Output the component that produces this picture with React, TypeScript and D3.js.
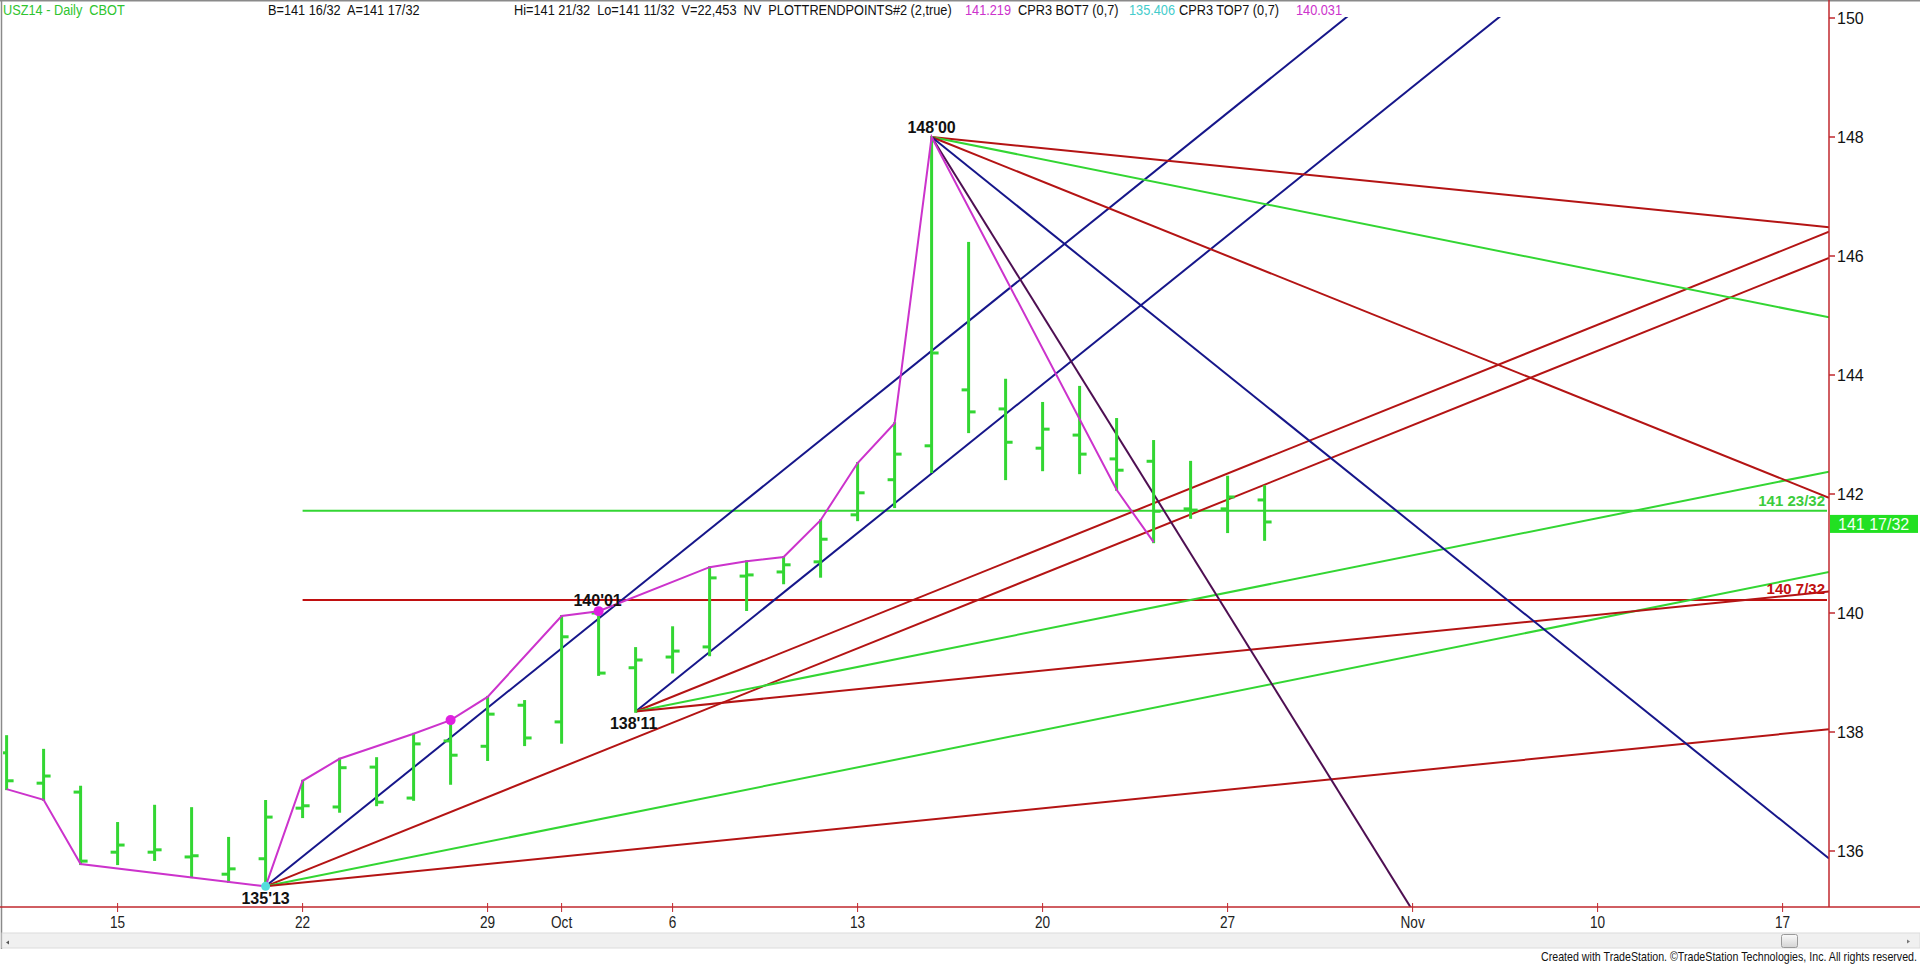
import React from 'react';
import * as d3 from 'd3';

// ---- data ----
const barDates = [
  '2014-09-10','2014-09-11','2014-09-12','2014-09-15','2014-09-16','2014-09-17','2014-09-18','2014-09-19',
  '2014-09-22','2014-09-23','2014-09-24','2014-09-25','2014-09-26','2014-09-29','2014-09-30','2014-10-01',
  '2014-10-02','2014-10-03','2014-10-06','2014-10-07','2014-10-08','2014-10-09','2014-10-10','2014-10-13',
  '2014-10-14','2014-10-15','2014-10-16','2014-10-17','2014-10-20','2014-10-21','2014-10-22','2014-10-23',
  '2014-10-24','2014-10-27','2014-10-28'
];
const opens = [137.65,137.14,136.99,135.98,135.98,135.90,135.61,135.87,136.72,136.74,137.41,136.89,137.85,137.76,138.45,138.17,140.00,139.08,139.26,139.43,140.62,140.69,140.86,141.65,142.24,142.81,143.75,143.43,142.77,142.99,142.59,142.55,141.75,141.75,141.90];
const highs = [137.93,137.70,137.08,136.47,136.76,136.72,136.22,136.84,137.18,137.55,137.56,137.97,138.20,138.59,138.52,139.95,140.03,139.41,139.76,140.77,140.87,140.94,141.56,142.52,143.19,148.00,146.22,143.92,143.53,143.80,143.26,142.89,142.54,142.29,142.13];
const lows = [137.04,136.86,135.78,135.78,135.85,135.56,135.48,135.41,136.57,136.66,136.77,136.86,137.13,137.53,137.78,137.82,138.96,138.34,139.00,139.29,140.05,140.50,140.61,141.56,141.78,142.37,143.04,142.25,142.40,142.35,142.07,141.19,141.60,141.36,141.23];
const closes = [137.18,137.26,135.83,136.10,136.02,135.92,135.70,136.57,136.76,137.40,136.82,137.80,137.61,138.30,137.90,139.60,138.99,139.21,139.36,140.59,140.64,140.81,141.24,142.02,142.67,144.37,143.38,142.87,143.09,142.67,142.40,141.71,141.73,141.95,141.53];

const dateTicks = ['2014-09-15','2014-09-22','2014-09-29','2014-10-01','2014-10-06','2014-10-13','2014-10-20','2014-10-27','2014-11-03','2014-11-10','2014-11-17'];
const dateTickLabels = ['15','22','29','Oct','6','13','20','27','Nov','10','17'];
const priceTicks = [136, 138, 140, 142, 144, 146, 148, 150];

const trendDates = ['2014-09-10','2014-09-11','2014-09-12','2014-09-19','2014-09-22','2014-09-23','2014-09-25','2014-09-26','2014-09-29','2014-10-01','2014-10-02','2014-10-07','2014-10-08','2014-10-09','2014-10-10','2014-10-13','2014-10-14','2014-10-15','2014-10-22','2014-10-23'];
const trendPrices = [137.04,136.86,135.78,135.406,137.18,137.55,137.97,138.20,138.59,139.95,140.031,140.77,140.87,140.94,141.56,142.52,143.19,148.00,142.07,141.19];
const dotDates = ['2014-09-26','2014-10-02'];
const dotPrices = [138.20, 140.031];

const pivotDates = ['2014-09-19','2014-10-03','2014-10-15','2014-10-02'];
const pivotPrices = [135.406, 138.344, 148.0, 140.031];
const pivotLabels = ["135'13", "138'11", "148'00", "140'01"];

const fanA = [0.5, 0.25, 0.125, 0.0625];
const fanB = [0.5, 0.25, 0.125, 0.0625];
const fanC = [-0.0625, -0.125, -0.25, -0.5, -1];

const levelPrices = [141.719, 140.219];
const levelLabels = ['141 23/32', '140 7/32'];
const levelStart = '2014-09-22';
const lastPrice = 141.531;
const lastLabel = '141 17/32';

const headerTexts = [
  'USZ14 - Daily  CBOT',
  'B=141 16/32  A=141 17/32',
  'Hi=141 21/32  Lo=141 11/32  V=22,453  NV  PLOTTRENDPOINTS#2 (2,true)',
  '141.219',
  'CPR3 BOT7 (0,7)',
  '135.406',
  'CPR3 TOP7 (0,7)',
  '140.031',
];
const footer = 'Created with TradeStation. \u00A9TradeStation Technologies, Inc. All rights reserved.';

// ---- helpers ----
function tradingIndex(s: string): number {
  const [yy, m, d] = s.split('-').map(Number);
  const t = Date.UTC(yy, m - 1, d);
  const cur = new Date(Date.UTC(2014, 8, 10));
  let n = 0;
  while (cur.getTime() < t) {
    cur.setUTCDate(cur.getUTCDate() + 1);
    const wd = cur.getUTCDay();
    if (wd !== 0 && wd !== 6) n++;
  }
  return n;
}

const W = 1920, H = 964;
const plotL = 3, plotR = 1829, plotT = 17, plotB = 907;
const x = d3.scaleLinear().domain([0, 49]).range([6.6, 6.6 + 37 * 49]);
const y = d3.scaleLinear().domain([136, 150]).range([851, 18]);

const SANS = "'Liberation Sans', Arial, sans-serif";

const GREEN = '#33d633';
const BLUE = '#16168a';
const RED = '#b41414';
const PURPLE = '#4e0f52';
const MAGENTA = '#cc33cc';

const headerX = [3, 268, 514, 965, 1018, 1129, 1179, 1296];
const headerFill = ['#2fc42f', '#111', '#111', MAGENTA, '#111', '#44cccc', '#111', MAGENTA];

function slopeColor(s: number): string {
  const a = Math.abs(s);
  if (a >= 1) return PURPLE;
  if (a >= 0.5) return BLUE;
  if (a >= 0.25) return RED;
  if (a >= 0.125) return GREEN;
  return RED;
}

export default function App() {
  const endIdx = x.invert(plotR);
  const fans: { x1: number; y1: number; x2: number; y2: number; c: string }[] = [];
  const addFan = (pi: number, slopes: number[]) => {
    const i0 = tradingIndex(pivotDates[pi]);
    const p0 = pivotPrices[pi];
    slopes.forEach((s) => {
      fans.push({ x1: x(i0), y1: y(p0), x2: x(endIdx), y2: y(p0 + s * (endIdx - i0)), c: slopeColor(s) });
    });
  };
  addFan(0, fanA);
  addFan(1, fanB);
  addFan(2, fanC);

  const trendLine = d3.line<number>()
    .x((_, i) => x(tradingIndex(trendDates[i])))
    .y((d) => y(d));

  const lsX = x(tradingIndex(levelStart));

  return (
    <svg width={W} height={H} style={{ position: 'absolute', left: 0, top: 0, background: '#fff', display: 'block' }}>
      <defs>
        <clipPath id="plot"><rect x={plotL} y={plotT} width={plotR - plotL} height={plotB - plotT} /></clipPath>
        <linearGradient id="thumb" x1="0" y1="0" x2="0" y2="1">
          <stop offset="0" stopColor="#fafafa" />
          <stop offset="1" stopColor="#d4d4d4" />
        </linearGradient>
      </defs>
      <rect x={0} y={0} width={W} height={H} fill="#fff" />
      {/* frame */}
      <line x1={1.5} y1={0} x2={1.5} y2={949} stroke="#8a8a8a" strokeWidth={1.5} />
      <line x1={0} y1={0.75} x2={W} y2={0.75} stroke="#8a8a8a" strokeWidth={1.5} />

      {/* header */}
      <g fontFamily={SANS} fontSize={15}>
        {headerTexts.map((t, i) => (
          <text key={'h' + i} transform={`translate(${headerX[i]},15) scale(0.85,1)`} fill={headerFill[i]} style={{ whiteSpace: 'pre' }}>{t}</text>
        ))}
      </g>

      <g clipPath="url(#plot)">
        {/* horizontal levels */}
        {levelPrices.map((p, i) => (
          <line key={'lv' + i} x1={lsX} x2={plotR - 2} y1={y(p)} y2={y(p)} stroke={i === 0 ? GREEN : '#c01010'} strokeWidth={2} />
        ))}
        {/* fan lines */}
        {fans.map((f, i) => (
          <line key={'f' + i} x1={f.x1} y1={f.y1} x2={f.x2} y2={f.y2} stroke={f.c} strokeWidth={2} />
        ))}
        {/* bars */}
        {barDates.map((d, i) => {
          const cx = x(tradingIndex(d));
          return (
            <g key={'b' + i} stroke={GREEN} strokeWidth={3}>
              <line x1={cx} x2={cx} y1={y(highs[i]) - 1} y2={y(lows[i]) + 1} />
              <line x1={cx - 7} x2={cx} y1={y(opens[i])} y2={y(opens[i])} />
              <line x1={cx} x2={cx + 7} y1={y(closes[i])} y2={y(closes[i])} />
            </g>
          );
        })}
        {/* trend points line */}
        <path d={trendLine(trendPrices) || ''} fill="none" stroke={MAGENTA} strokeWidth={2} />
        {dotDates.map((d, i) => (
          <circle key={'dt' + i} cx={x(tradingIndex(d))} cy={y(dotPrices[i])} r={5} fill="#e020e0" />
        ))}
        <circle cx={x(tradingIndex(pivotDates[0]))} cy={y(pivotPrices[0])} r={4.5} fill="#55dddd" />
      </g>

      {/* pivot labels */}
      <g fontFamily={SANS} fontSize={16} fontWeight="bold" fill="#111" textAnchor="middle">
        <text x={x(tradingIndex(pivotDates[0]))} y={y(pivotPrices[0]) + 18}>{pivotLabels[0]}</text>
        <text x={x(tradingIndex(pivotDates[1])) - 2} y={y(pivotPrices[1]) + 17}>{pivotLabels[1]}</text>
        <text x={x(tradingIndex(pivotDates[2]))} y={y(pivotPrices[2]) - 4}>{pivotLabels[2]}</text>
        <text x={x(tradingIndex(pivotDates[3])) - 1} y={y(pivotPrices[3]) - 5}>{pivotLabels[3]}</text>
      </g>

      {/* level labels */}
      <g fontFamily={SANS} fontSize={15} fontWeight="bold" textAnchor="end">
        <text x={plotR - 4} y={y(levelPrices[0]) - 5} fill="#3ccc3c">{levelLabels[0]}</text>
        <text x={plotR - 4} y={y(levelPrices[1]) - 6} fill="#c01010">{levelLabels[1]}</text>
      </g>

      {/* right axis */}
      <line x1={plotR} x2={plotR} y1={0} y2={plotB} stroke="#c0282e" strokeWidth={1.5} />
      {priceTicks.map((p) => (
        <g key={'pt' + p}>
          <line x1={plotR} x2={plotR + 6} y1={y(p)} y2={y(p)} stroke="#c0282e" strokeWidth={1.5} />
          <text x={plotR + 8} y={y(p)} dy="0.36em" fontFamily={SANS} fontSize={16} fill="#111">{p}</text>
        </g>
      ))}
      <rect x={plotR + 1} y={y(lastPrice) - 7} width={W - plotR - 3} height={18} fill="#22e022" />
      <text x={plotR + 9} y={y(lastPrice) + 2} dy="0.36em" fontFamily={SANS} fontSize={16} fill="#f4fff4">{lastLabel}</text>

      {/* bottom axis */}
      <line x1={0} x2={W} y1={plotB} y2={plotB} stroke="#c0282e" strokeWidth={1.5} />
      {dateTicks.map((d, i) => {
        const tx = x(tradingIndex(d));
        return (
          <g key={'dtk' + i}>
            <line x1={tx} x2={tx} y1={plotB - 4} y2={plotB + 5} stroke="#c0282e" strokeWidth={1} />
            <text transform={`translate(${tx},928) scale(0.85,1)`} textAnchor="middle" fontFamily={SANS} fontSize={16} fill="#222">{dateTickLabels[i]}</text>
          </g>
        );
      })}

      {/* scrollbar */}
      <rect x={2} y={933} width={W - 2} height={15} fill="#f0f0f0" stroke="#dcdcdc" strokeWidth={1} />
      <path d="M9,940.5 L6,942.5 L9,944.5 Z" fill="#555" />
      <path d="M1907,939.5 L1910,941.5 L1907,943.5 Z" fill="#777" />
      <rect x={1781.5} y={934.5} width={16} height={13} rx={2} fill="url(#thumb)" stroke="#9a9a9a" />

      {/* footer */}
      <text transform="translate(1917,961) scale(0.82,1)" textAnchor="end" fontFamily={SANS} fontSize={13} fill="#111">{footer}</text>
    </svg>
  );
}
